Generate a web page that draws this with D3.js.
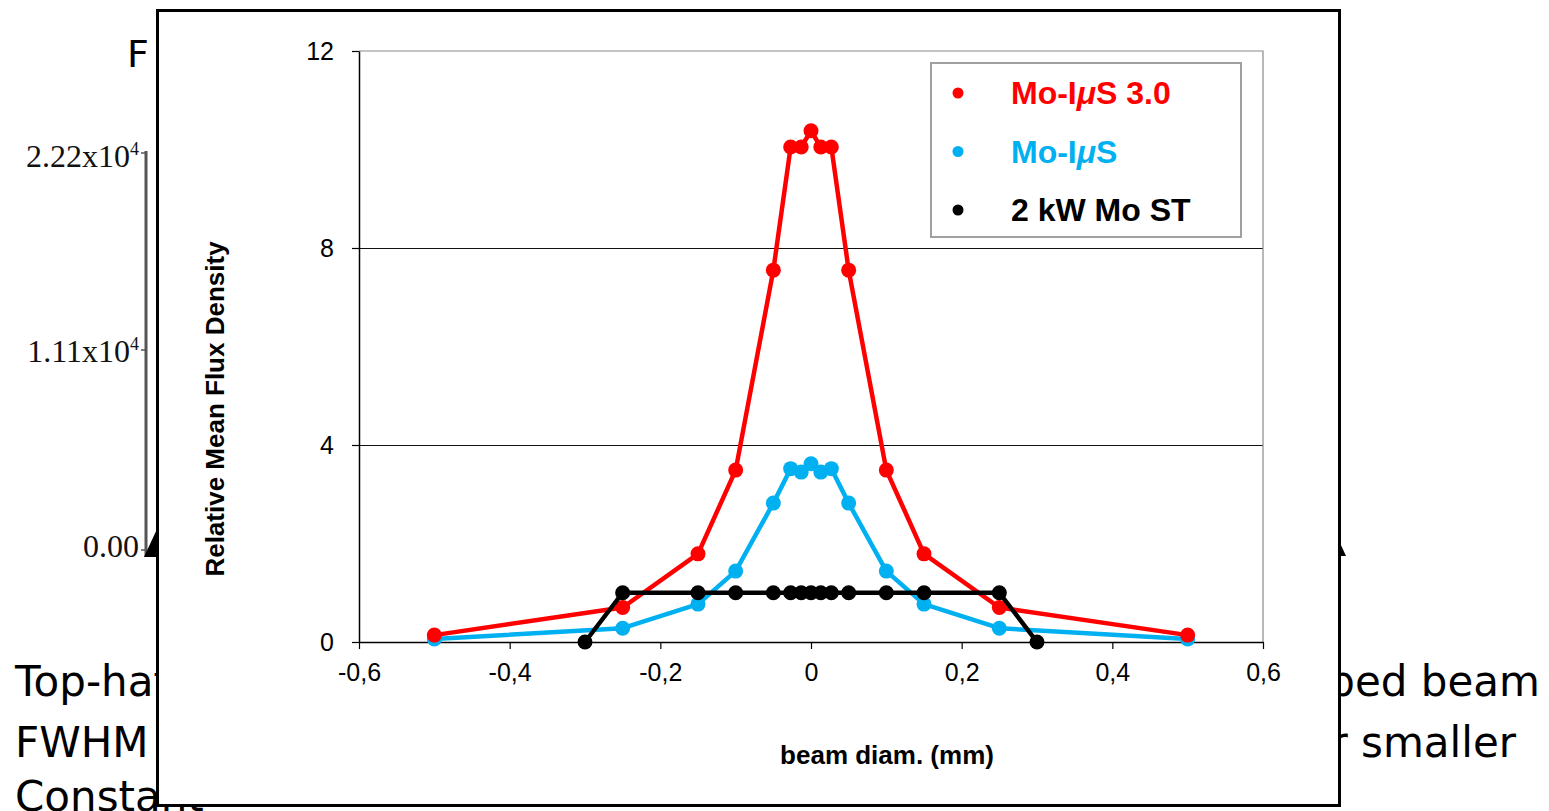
<!DOCTYPE html>
<html>
<head>
<meta charset="utf-8">
<script src="https://cdn.jsdelivr.net/npm/d3@7"></script>
<style>
  body { margin: 0; background: #fff; }
  svg { display: block; }
</style>
</head>
<body>
<svg width="1549" height="811"></svg>
<script>
// The data
var xsPeak = [-0.5, -0.25, -0.15, -0.1, -0.05, -0.027, -0.013, 0, 0.013, 0.027, 0.05, 0.1, 0.15, 0.25, 0.5];
var mo30 = [0.14, 0.7, 1.79, 3.49, 7.55, 10.05, 10.05, 10.38, 10.05, 10.05, 7.55, 3.49, 1.79, 0.7, 0.14];
var moIus = [0.06, 0.28, 0.77, 1.44, 2.82, 3.52, 3.45, 3.62, 3.45, 3.52, 2.82, 1.44, 0.77, 0.28, 0.06];
var xsTop = [-0.3, -0.25, -0.15, -0.1, -0.05, -0.027, -0.013, 0, 0.013, 0.027, 0.05, 0.1, 0.15, 0.25, 0.3];
var moST = [0, 1, 1, 1, 1, 1, 1, 1, 1, 1, 1, 1, 1, 1, 0];
var xTicks = [-0.6, -0.4, -0.2, 0, 0.2, 0.4, 0.6];
var yTicks = [0, 4, 8, 12];
var seriesNames = ["Mo-I\u03bcS 3.0", "Mo-I\u03bcS", "2 kW Mo ST"];
var seriesColors = ["#ff0000", "#00b0f0", "#000000"];

var svg = d3.select("svg");

// Slide behind the chart
var slide = svg.append("g").attr("font-family", "DejaVu Sans, Verdana, sans-serif").attr("fill", "#000");
slide.append("text").attr("x", 127).attr("y", 67).attr("font-size", 38).text("F");
slide.append("text").attr("x", 15).attr("y", 696).attr("font-size", 42).text("Top-hat");
slide.append("text").attr("x", 15).attr("y", 757).attr("font-size", 42).text("FWHM");
slide.append("text").attr("x", 15).attr("y", 811).attr("font-size", 42).text("Constant");
slide.append("text").attr("x", 1540).attr("y", 696).attr("font-size", 42).attr("text-anchor", "end").text("ped beam");
slide.append("text").attr("x", 1516).attr("y", 757).attr("font-size", 42).attr("text-anchor", "end").text("r smaller");

// old serif axis peeking out on the left
var old = svg.append("g").attr("font-family", "Liberation Serif, Times New Roman, serif").attr("fill", "#111");
var oldLabels = [["2.22x10", "4", 167], ["1.11x10", "4", 362], ["0.00", "", 557]];
oldLabels.forEach(function (d) {
    var t = old.append("text").attr("x", 139).attr("y", d[2]).attr("text-anchor", "end").attr("font-size", 32).text(d[0]);
    if (d[1]) t.append("tspan").attr("dy", -12).attr("font-size", 18).text(d[1]);
});
old.append("line").attr("x1", 146).attr("x2", 146).attr("y1", 151).attr("y2", 557)
    .attr("stroke", "#555").attr("stroke-width", 3);
[153, 350, 550].forEach(function (y) {
    old.append("line").attr("x1", 141).attr("x2", 146).attr("y1", y).attr("y2", y).attr("stroke", "#555").attr("stroke-width", 1.5);
});
old.append("path").attr("d", "M144,557 L158,527 L158,557 Z").attr("fill", "#000");
old.append("path").attr("d", "M1340,543 L1346,556 L1340,556 Z").attr("fill", "#000");

// Chart frame
svg.append("rect")
    .attr("x", 157.5).attr("y", 10.5).attr("width", 1182).attr("height", 795)
    .attr("fill", "#fff").attr("stroke", "#000").attr("stroke-width", 3);

// Scales
var x = d3.scaleLinear().domain([-0.6, 0.6]).range([359, 1263]);
var y = d3.scaleLinear().domain([0, 12]).range([642, 51]);

var chart = svg.append("g").attr("font-family", "Liberation Sans, Arial, sans-serif");

// grid + plot border
chart.append("g").selectAll("line")
    .data(yTicks.filter(function (d) { return d > 0 && d < 12; }))
    .enter().append("line")
    .attr("x1", x(-0.6)).attr("x2", x(0.6))
    .attr("y1", function (d) { return Math.round(y(d)) + 0.5; }).attr("y2", function (d) { return Math.round(y(d)) + 0.5; })
    .attr("stroke", "#111").attr("stroke-width", 1);
chart.append("path")
    .attr("d", "M" + x(-0.6) + "," + y(12) + "H" + x(0.6) + "V" + y(0))
    .attr("fill", "none").attr("stroke", "#8a8a8a").attr("stroke-width", 1.2);

// Axes
var fmt = function (d) { return d === 0 ? "0" : d.toFixed(1).replace(".", ","); };
var xAxis = chart.append("g")
    .attr("transform", "translate(0," + y(0) + ")")
    .call(d3.axisBottom(x).tickValues(xTicks).tickFormat(fmt).tickSize(7).tickSizeOuter(0).tickPadding(14));
var yAxis = chart.append("g")
    .attr("transform", "translate(" + x(-0.6) + ",0)")
    .call(d3.axisLeft(y).tickValues(yTicks).tickFormat(function (d) { return d; }).tickSize(7).tickSizeOuter(0).tickPadding(18));
[xAxis, yAxis].forEach(function (a) {
    a.attr("font-family", "Liberation Sans, Arial, sans-serif").attr("font-size", 25);
    a.selectAll("text").attr("fill", "#000");
    a.selectAll("line").attr("stroke", "#000").attr("stroke-width", 1.2);
    a.select(".domain").attr("stroke", "#000").attr("stroke-width", 1.5);
});
xAxis.selectAll("text").attr("dy", "0.71em");

chart.append("text")
    .attr("x", 887).attr("y", 764).attr("text-anchor", "middle")
    .attr("font-size", 26).attr("font-weight", "bold").text("beam diam. (mm)");
chart.append("text")
    .attr("transform", "translate(224,409) rotate(-90)").attr("text-anchor", "middle")
    .attr("font-size", 26).attr("font-weight", "bold").text("Relative Mean Flux Density");

// Series lines and points
var series = [
    { xs: xsPeak, ys: moIus, color: seriesColors[1] },
    { xs: xsPeak, ys: mo30, color: seriesColors[0] },
    { xs: xsTop, ys: moST, color: seriesColors[2] }
];
var line = d3.line().x(function (d) { return x(d[0]); }).y(function (d) { return y(d[1]); });
series.forEach(function (s) {
    var pts = d3.zip(s.xs, s.ys);
    var g = chart.append("g");
    g.append("path").datum(pts).attr("d", line)
        .attr("fill", "none").attr("stroke", s.color).attr("stroke-width", 4.5).attr("stroke-linejoin", "round");
    g.selectAll("circle").data(pts).enter().append("circle")
        .attr("cx", function (d) { return x(d[0]); }).attr("cy", function (d) { return y(d[1]); })
        .attr("r", 7.5).attr("fill", s.color);
});

// Legend
var legend = chart.append("g");
legend.append("rect").attr("x", 931).attr("y", 63).attr("width", 310).attr("height", 174)
    .attr("fill", "#fff").attr("stroke", "#a0a0a0").attr("stroke-width", 2);
var rows = legend.selectAll("g.row").data(seriesNames).enter().append("g")
    .attr("class", "row")
    .attr("transform", function (d, i) { return "translate(0," + (93 + i * 58.5) + ")"; });
rows.append("circle").attr("cx", 958).attr("cy", 0).attr("r", 5.5)
    .attr("fill", function (d, i) { return seriesColors[i]; });
rows.append("text").attr("x", 1011).attr("y", 11)
    .attr("font-size", 32).attr("font-weight", "bold")
    .attr("fill", function (d, i) { return seriesColors[i]; })
    .each(function (d) {
        var parts = d.split("\u03bc");
        var t = d3.select(this);
        t.append("tspan").text(parts[0]);
        if (parts.length > 1) {
            t.append("tspan").attr("font-style", "italic").text("\u03bc");
            t.append("tspan").text(parts[1]);
        }
    });
</script>
</body>
</html>
